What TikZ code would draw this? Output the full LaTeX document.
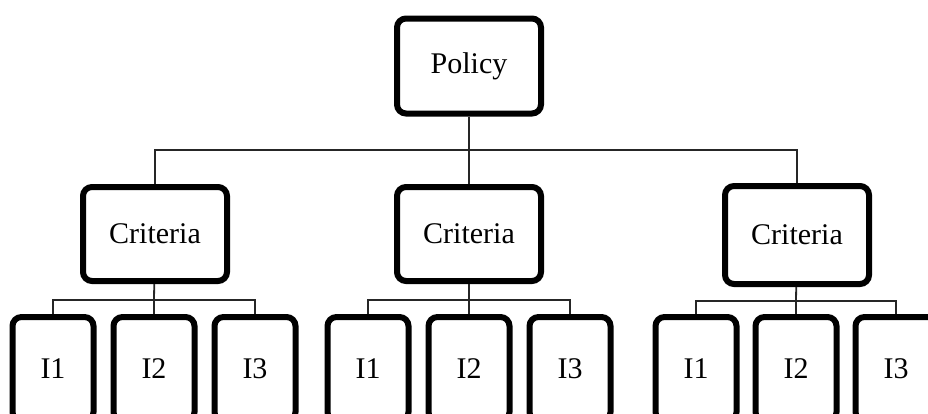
\documentclass[tikz,border=0pt]{standalone}
\usepackage{fontspec}
\setmainfont{Liberation Serif}
\usepackage{tikz}
\usetikzlibrary{positioning}
\tikzstyle{link} = [line width=1.8pt, color=black!85]
\tikzstyle{critbox} = [rectangle, rounded corners=9pt, minimum width=144pt, minimum height=94pt, text centered, draw=black, line width=6pt, inner sep=0pt, font=\fontsize{30}{34}\selectfont]
\tikzstyle{leafbox} = [rectangle, rounded corners=9pt, minimum width=81pt, minimum height=104pt, text centered, draw=black, line width=6pt, inner sep=0pt, font=\fontsize{30}{34}\selectfont]

\begin{document}
\begin{tikzpicture}[x=1pt, y=-1pt]
\useasboundingbox (0,0) rectangle (928,413);
\clip (0,0) rectangle (928,413);
% Policy and criteria
\node[critbox, minimum height=95pt] (policy) at (469,66) {Policy};
\node[critbox] (crit1) at (155,234) {Criteria};
\node[critbox] (crit2) at (469,234) {Criteria};
\node[critbox, minimum height=98pt] (crit3) at (797,235) {Criteria};
\coordinate (pbar) at (469,150);
\draw[link] (policy) -- (pbar);
\draw[link] (pbar) -| (crit1);
\draw[link] (pbar) -| (crit3);
\draw[link] (pbar) -- (crit2);

% indicators
\node[leafbox] (a1) at (53,369) {I1};
\node[leafbox] (a2) at (154,369) {I2};
\node[leafbox] (a3) at (255,369) {I3};
\node[leafbox] (b1) at (368,369) {I1};
\node[leafbox] (b2) at (469,369) {I2};
\node[leafbox] (b3) at (570,369) {I3};
\node[leafbox] (c1) at (696,369) {I1};
\node[leafbox] (c2) at (796,369) {I2};
\node[leafbox] (c3) at (896,369) {I3};

\coordinate (abar) at (154,300);
\coordinate (bbar) at (469,300);
\coordinate (cbar) at (796,301);
\draw[link] (crit1) -- (abar);
\draw[link] (abar) -| (a1);
\draw[link] (abar) -| (a3);
\draw[link] (abar) -- (a2);
\draw[link] (crit2) -- (bbar);
\draw[link] (bbar) -| (b1);
\draw[link] (bbar) -| (b3);
\draw[link] (bbar) -- (b2);
\draw[link] (crit3) -- (cbar);
\draw[link] (cbar) -| (c1);
\draw[link] (cbar) -| (c3);
\draw[link] (cbar) -- (c2);
\end{tikzpicture}
\end{document}
